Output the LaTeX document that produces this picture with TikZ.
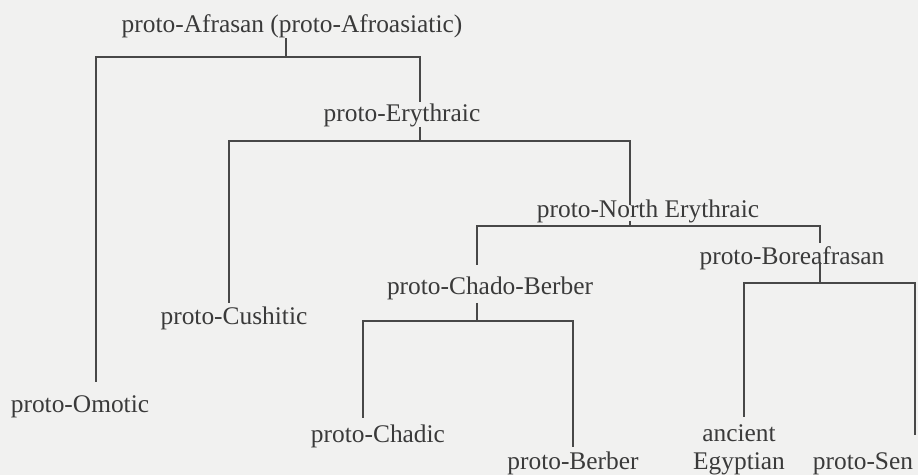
\documentclass[tikz,border=0pt]{standalone}
\usepackage{fontspec}
\setmainfont{Liberation Serif}
\usepackage{tikz}
\usetikzlibrary{positioning}

\definecolor{paper}{RGB}{241,241,240}
\definecolor{ink}{RGB}{58,58,58}
\definecolor{rule}{RGB}{72,72,72}

\begin{document}
\begin{tikzpicture}[x=0.5pt, y=-0.5pt,
    lang/.style={inner sep=0pt, anchor=base, text=ink, font=\fontsize{12.7}{14}\selectfont},
    branch/.style={draw=rule, line width=0.75pt}]
    \fill[paper] (0,0) rectangle (918,475);
    \useasboundingbox (0,0) rectangle (918,475);

    % proto-languages
    \node[lang] (afr) at (292,33) {proto-Afrasan (proto-Afroasiatic)};
    \node[lang] (ery) at (402,122) {proto-Erythraic};
    \node[lang] (ner) at (648,218) {proto-North Erythraic};
    \node[lang] (bor) at (792,265) {proto-Boreafrasan};
    \node[lang] (chb) at (490,295) {proto-Chado-Berber};
    % leaves
    \node[lang] (omo) at (80,413) {proto-Omotic};
    \node[lang] (cus) at (234,325) {proto-Cushitic};
    \node[lang] (cha) at (378,443) {proto-Chadic};
    \node[lang] (ber) at (573,470) {proto-Berber};
    \node[lang, align=center] (egy) at (739,470) {ancient\\Egyptian};
    \node[lang] (sem) at (863,470) {proto-Sen};

    % junctions
    \coordinate (j-afr) at (286,57);
    \coordinate (j-ery) at (420,141);
    \coordinate (j-ner) at (630,226);
    \coordinate (j-chb) at (477,321);
    \coordinate (j-bor) at (820,283);

    % leg ends above the daughters
    \coordinate (omo-t) at (96,382);
    \coordinate (ery-t) at (420,102);
    \coordinate (cus-t) at (229,303);
    \coordinate (ner-t) at (630,205);
    \coordinate (chb-t) at (477,265);
    \coordinate (bor-t) at (820,243);
    \coordinate (cha-t) at (363,418);
    \coordinate (ber-t) at (573,447);
    \coordinate (egy-t) at (744,417);
    \coordinate (sem-t) at (915,435);

    \draw[branch] (afr.base -| j-afr) ++(0,5) -- (j-afr);
    \draw[branch] (j-afr) -| (omo-t);
    \draw[branch] (j-afr) -| (ery-t);

    \draw[branch] (ery.base -| j-ery) ++(0,5) -- (j-ery);
    \draw[branch] (j-ery) -| (cus-t);
    \draw[branch] (j-ery) -| (ner-t);

    \draw[branch] (ner.base -| j-ner) ++(0,3) -- (j-ner);
    \draw[branch] (j-ner) -| (chb-t);
    \draw[branch] (j-ner) -| (bor-t);

    \draw[branch] (chb.base -| j-chb) ++(0,8) -- (j-chb);
    \draw[branch] (j-chb) -| (cha-t);
    \draw[branch] (j-chb) -| (ber-t);

    \draw[branch] (bor.base -| j-bor) ++(0,-3) -- (j-bor);
    \draw[branch] (j-bor) -| (egy-t);
    \draw[branch] (j-bor) -| (sem-t);
\end{tikzpicture}
\end{document}
